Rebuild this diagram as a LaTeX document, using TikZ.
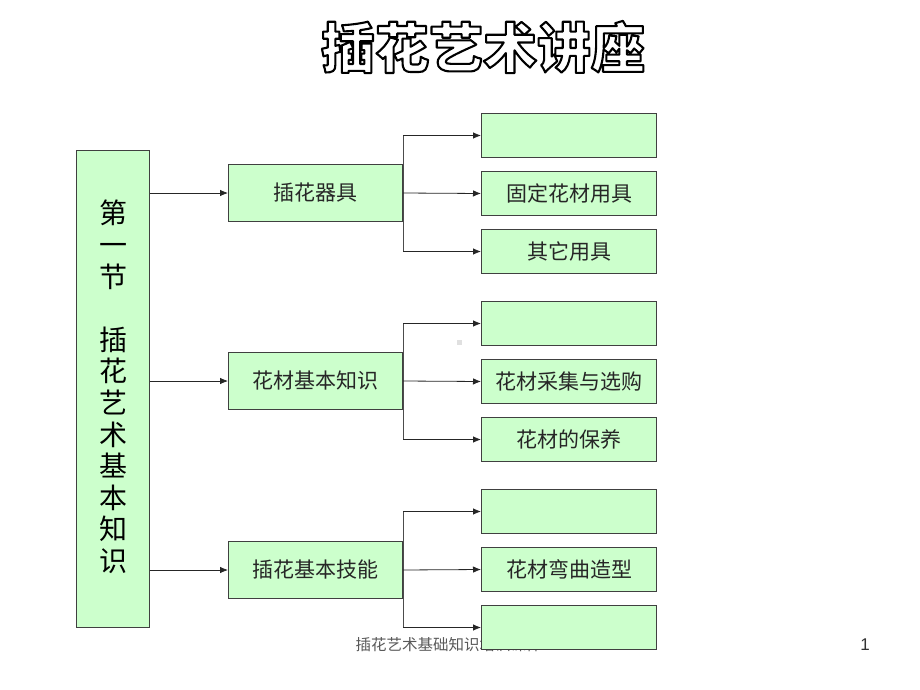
\documentclass[tikz,border=0pt]{standalone}
\usepackage{fontspec}
\newfontfamily\cjk{Noto Sans CJK SC}
\newfontfamily\cjkB{Noto Sans CJK SC Black}
\setsansfont{Liberation Sans}
\usetikzlibrary{arrows.meta}
\definecolor{boxgreen}{HTML}{CCFFCC}
\definecolor{boxline}{HTML}{404040}
\newcommand{\hollowtext}[1]{\special{pdf:literal direct 0 G 2.1 w 1 j 1 J 1 Tr}#1\special{pdf:literal direct 0 Tr 0.4 w 0 j 0 J}}
\tikzset{
  gbox/.style={draw=boxline, fill=boxgreen, line width=1pt, inner sep=0pt, anchor=north west},
  boxtext/.style={font=\cjk\fontsize{21}{24}\selectfont, text=black!85},
  conn/.style={draw=black!85, line width=0.8pt, -{Latex[length=8pt,width=6.5pt]}},
  branch/.style={draw=black!70, line width=0.8pt},
}
\begin{document}
\begin{tikzpicture}[x=1pt,y=-1pt]
\useasboundingbox (0,0) rectangle (920,690);
\fill[white] (0,0) rectangle (920,690);
% title
\node[font=\cjkB\fontsize{54}{60}\selectfont, text=black] (title) at (483,47) {\hollowtext{插花艺术讲座}};
% footer (drawn first so that the bottom box covers it)
\node[font=\cjk\fontsize{15.5}{18}\selectfont, text=black!65, anchor=west] (footer) at (352,645) {插花艺术基础知识培训课件};
\node[font=\sffamily\fontsize{17}{20}\selectfont, text=black!80] (page) at (865,645) {1};
% left box
\node[gbox, minimum width=73pt, minimum height=477pt] (L) at (76,150) {};
\node[font=\cjk\fontsize{28}{31.6}\selectfont, align=center, text=black] (Lt) at (113,387)
  {第\\一\\节\\\mbox{}\\插\\花\\艺\\术\\基\\本\\知\\识};
% middle boxes
\node[gbox, minimum width=174pt, minimum height=57pt] (M1) at (228,164) {};
\node[boxtext] (M1t) at (M1.center) {插花器具};
\node[gbox, minimum width=174pt, minimum height=57pt] (M2) at (228,352) {};
\node[boxtext] (M2t) at (M2.center) {花材基本知识};
\node[gbox, minimum width=174pt, minimum height=57pt] (M3) at (228,541) {};
\node[boxtext] (M3t) at (M3.center) {插花基本技能};
% right boxes
\node[gbox, minimum width=175pt, minimum height=44pt] (R11) at (481,113) {};
\node[gbox, minimum width=175pt, minimum height=44pt] (R12) at (481,171) {};
\node[boxtext] (R12t) at (R12.center) {固定花材用具};
\node[gbox, minimum width=175pt, minimum height=44pt] (R13) at (481,229) {};
\node[boxtext] (R13t) at (R13.center) {其它用具};
\node[gbox, minimum width=175pt, minimum height=44pt] (R21) at (481,301) {};
\node[gbox, minimum width=175pt, minimum height=44pt] (R22) at (481,359) {};
\node[boxtext] (R22t) at (R22.center) {花材采集与选购};
\node[gbox, minimum width=175pt, minimum height=44pt] (R23) at (481,417) {};
\node[boxtext] (R23t) at (R23.center) {花材的保养};
\node[gbox, minimum width=175pt, minimum height=44pt] (R31) at (481,489) {};
\node[gbox, minimum width=175pt, minimum height=44pt] (R32) at (481,547) {};
\node[boxtext] (R32t) at (R32.center) {花材弯曲造型};
\node[gbox, minimum width=175pt, minimum height=44pt] (R33) at (481,605) {};
% left to middle
\draw[conn] (L.east |- M1.west) -- (M1.west);
\draw[conn] (L.east |- M2.west) -- (M2.west);
\draw[conn] (L.east |- M3.west) -- (M3.west);
% branches
\foreach \m/\a/\b/\c in {M1/R11/R12/R13, M2/R21/R22/R23, M3/R31/R32/R33}{
  \draw[branch] (\m.east |- \a.west) -- (\m.east |- \c.west);
  \draw[conn] (\m.east |- \a.west) -- (\a.west);
  \draw[conn] (\m.east) -- (\b.west);
  \draw[conn] (\m.east |- \c.west) -- (\c.west);
}
% small grey mark
\fill[black!12] (456.5,339.5) rectangle (461.5,344.5);
\end{tikzpicture}
\end{document}
